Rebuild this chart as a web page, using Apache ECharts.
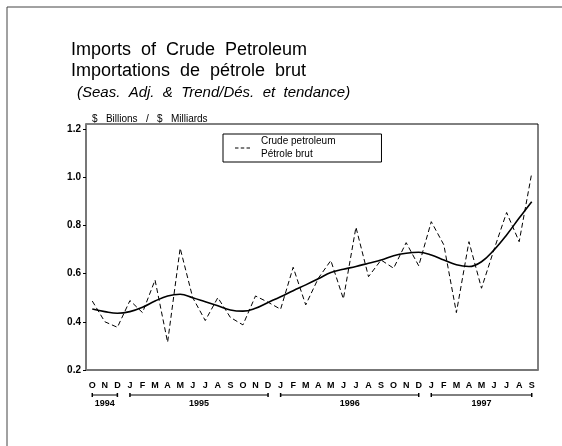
<!DOCTYPE html>
<html>
<head>
<meta charset="utf-8">
<script src="https://cdn.jsdelivr.net/npm/echarts@6/dist/echarts.min.js"></script>
<style>
  html, body { margin: 0; padding: 0; background: #fff; }
  #chart { width: 562px; height: 446px; }
</style>
</head>
<body>
<div id="chart"></div>
<script>
// Oct 1994 .. Sep 1997, monthly
const months = ['O', 'N', 'D',
  'J', 'F', 'M', 'A', 'M', 'J', 'J', 'A', 'S', 'O', 'N', 'D',
  'J', 'F', 'M', 'A', 'M', 'J', 'J', 'A', 'S', 'O', 'N', 'D',
  'J', 'F', 'M', 'A', 'M', 'J', 'J', 'A', 'S']
// [label, first month index, last month index]
const yearSpans = [['1994', 0, 2], ['1995', 3, 14], ['1996', 15, 26], ['1997', 27, 35]]

// seasonally adjusted ($ billions)
const seasAdj = [0.486, 0.40, 0.377,
  0.488, 0.438, 0.573, 0.315, 0.705, 0.50, 0.405, 0.50, 0.418, 0.387, 0.507, 0.481,
  0.452, 0.626, 0.47, 0.58, 0.654, 0.495, 0.792, 0.587, 0.656, 0.622, 0.728, 0.632,
  0.815, 0.719, 0.438, 0.732, 0.539, 0.70, 0.853, 0.732, 1.016]
// trend
const trend = [0.453, 0.442, 0.435,
  0.442, 0.46, 0.486, 0.507, 0.514, 0.50, 0.483, 0.466, 0.449, 0.444, 0.456, 0.48,
  0.504, 0.529, 0.553, 0.578, 0.604, 0.618, 0.629, 0.643, 0.656, 0.674, 0.684, 0.688,
  0.677, 0.656, 0.636, 0.629, 0.649, 0.698, 0.76, 0.83, 0.898]

const yTicks = { min: 0.2, max: 1.22, interval: 0.2 }

const font = 'Liberation Sans, Arial, Helvetica, sans-serif'
const chart = echarts.init(document.getElementById('chart'))

const option = {
  animation: false,
  backgroundColor: '#fff',
  textStyle: { fontFamily: font, color: '#000' },
  title: [{
    text: 'Imports  of  Crude  Petroleum\nImportations  de  pétrole  brut',
    left: 66,
    top: 35,
    textStyle: { fontSize: 18, fontWeight: 'normal', lineHeight: 21, color: '#000', fontFamily: font }
  }, {
    text: '(Seas.  Adj.  &  Trend/Dés.  et  tendance)',
    left: 72,
    top: 80,
    textStyle: { fontSize: 15, fontStyle: 'italic', fontWeight: 'normal', color: '#000', fontFamily: font }
  }, {
    text: '$   Billions   /   $   Milliards',
    left: 87,
    top: 109,
    textStyle: { fontSize: 10, fontWeight: 'normal', color: '#000', fontFamily: font }
  }],
  legend: {
    data: ['Crude petroleum\nPétrole brut'],
    left: 223,
    top: 134,
    padding: [1, 46, 1, 12],
    icon: 'path://M0,0h3v1h-3z M5,0h3v1h-3z M10,0h3v1h-3z',
    symbolKeepAspect: false,
    itemWidth: 15,
    itemHeight: 1,
    itemGap: 0,
    itemStyle: { color: '#000' },
    borderColor: '#000',
    borderWidth: 1,
    textStyle: { fontSize: 10, lineHeight: 13, color: '#000', fontFamily: font, padding: [0, 0, 0, 6] }
  },
  grid: { left: 86, right: 24, top: 124, bottom: 76, show: true, borderColor: '#000', borderWidth: 1 },
  xAxis: {
    type: 'category',
    data: months,
    boundaryGap: true,
    axisLine: { lineStyle: { color: '#777', width: 2 } },
    axisTick: { show: false },
    axisLabel: { interval: 0, margin: 11, fontSize: 9, fontWeight: 'bold', color: '#000', fontFamily: font }
  },
  yAxis: {
    type: 'value',
    min: yTicks.min,
    max: yTicks.max,
    interval: yTicks.interval,
    axisLine: { show: true, lineStyle: { color: '#777', width: 2 } },
    axisTick: { show: true, length: 3, lineStyle: { color: '#000' } },
    splitLine: { show: false },
    axisLabel: {
      margin: 5, fontSize: 10, fontWeight: 'bold', color: '#000', fontFamily: font,
      showMaxLabel: false,
      formatter: v => v.toFixed(1)
    }
  },
  series: [{
    name: 'Crude petroleum\nPétrole brut',
    type: 'line',
    data: seasAdj,
    symbol: 'none',
    lineStyle: { color: '#000', width: 1, type: [5, 3] },
    itemStyle: { color: '#000' }
  }, {
    name: 'Trend',
    type: 'line',
    data: trend,
    symbol: 'none',
    smooth: 0.4,
    lineStyle: { color: '#000', width: 1.6 },
    itemStyle: { color: '#000' }
  }]
}
chart.setOption(option)

// year brackets under the month labels, placed from the axis scale
const axisY = chart.convertToPixel({ yAxisIndex: 0 }, yTicks.min)
const bracketY = axisY + 25
const graphics = [{
  type: 'rect',
  shape: { x: 7, y: 7, width: 620, height: 520 },
  style: { fill: 'none', stroke: '#444', lineWidth: 1 },
  silent: true
}]
yearSpans.forEach(([label, from, to]) => {
  const x1 = chart.convertToPixel({ xAxisIndex: 0 }, from)
  const x2 = chart.convertToPixel({ xAxisIndex: 0 }, to)
  graphics.push({ type: 'line', shape: { x1, y1: bracketY, x2, y2: bracketY }, style: { stroke: '#000', lineWidth: 1 } })
  graphics.push({ type: 'line', shape: { x1, y1: bracketY - 2, x2: x1, y2: bracketY + 2 }, style: { stroke: '#000', lineWidth: 1.5 } })
  graphics.push({ type: 'line', shape: { x1: x2, y1: bracketY - 2, x2, y2: bracketY + 2 }, style: { stroke: '#000', lineWidth: 1.5 } })
  graphics.push({
    type: 'text',
    x: (x1 + x2) / 2,
    y: bracketY + 9,
    style: { text: label, fontSize: 9, fontWeight: 'bold', fontFamily: font, fill: '#000', align: 'center', verticalAlign: 'middle' }
  })
})
chart.setOption({ graphic: graphics })
</script>
</body>
</html>
